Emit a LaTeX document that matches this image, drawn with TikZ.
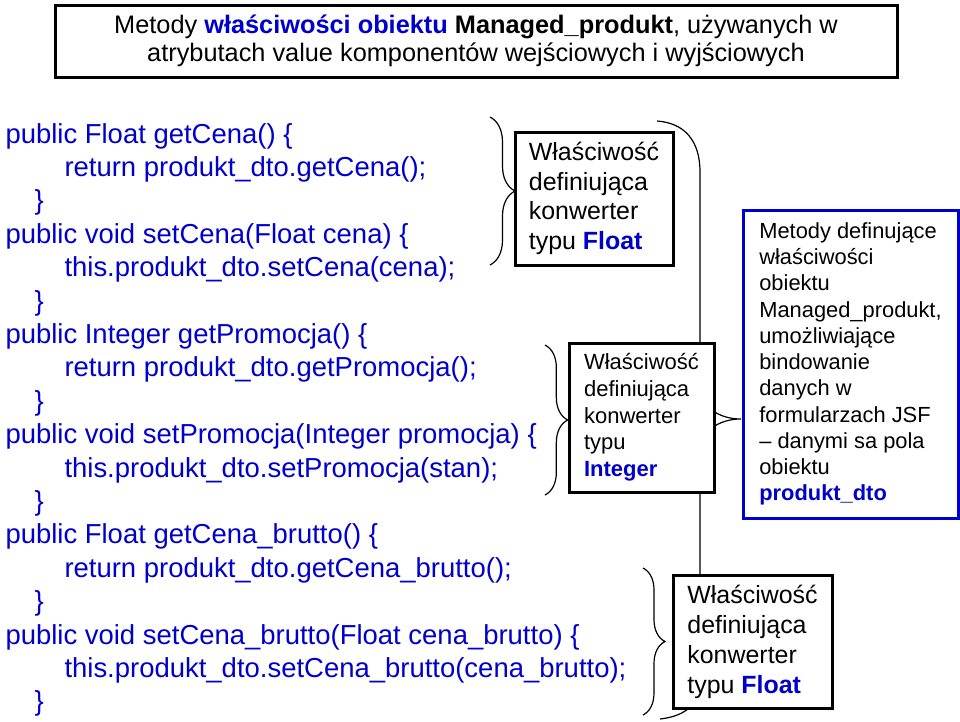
\documentclass[tikz,border=0pt]{standalone}
\usepackage{fontspec}
\setmainfont{Liberation Sans}
\usetikzlibrary{decorations.pathreplacing}

\definecolor{codeblue}{RGB}{0,0,204}

\tikzset{every picture/.style={line width=0.75pt}}
\tikzset{
  codeline/.style={anchor=base west, inner sep=0pt, color=codeblue, font=\fontsize{20.6}{25}\selectfont},
  convbox/.style={draw, line width=2.25pt, fill=white, align=left, inner sep=0pt},
  sidebrace/.style={decorate, decoration={brace, amplitude=#1}, line width=0.9pt},
}

\begin{document}
\begin{tikzpicture}[x=0.75pt,y=0.75pt,yscale=-1,xscale=1]
		\useasboundingbox (0,0) rectangle (960,721);

		% kod metod
		\foreach \k/\ind/\txt in {
			0/5/{public Float getCena() \{},
			1/64/{return produkt\_dto.getCena();},
			2/34/{\}},
			3/5/{public void setCena(Float cena) \{},
			4/64/{this.produkt\_dto.setCena(cena);},
			5/34/{\}},
			6/5/{public Integer getPromocja() \{},
			7/64/{return produkt\_dto.getPromocja();},
			8/34/{\}},
			9/5/{public void setPromocja(Integer promocja) \{},
			10/64/{this.produkt\_dto.setPromocja(stan);},
			11/34/{\}},
			12/5/{public Float getCena\_brutto() \{},
			13/64/{return produkt\_dto.getCena\_brutto();},
			14/34/{\}},
			15/5/{public void setCena\_brutto(Float cena\_brutto) \{},
			16/64/{this.produkt\_dto.setCena\_brutto(cena\_brutto);},
			17/34/{\}}}
			\node [codeline] (code\k) at (\ind, 143+33.4*\k) {\txt};

		% duza klamra
		\draw [line width=0.9pt] (657,121) .. controls (684,123) and (700,140) .. (700,172) -- (700,386) .. controls (700,406) and (718,419) .. (741,419) .. controls (718,419) and (700,432) .. (700,452) -- (700,680) .. controls (700,704) and (686,716) .. (660,719);

		% male klamry
		\draw [sidebrace=18.75pt] (490,117) -- (490,265);
		\draw [sidebrace=17pt] (545,345) -- (545,495);
		\draw [sidebrace=16.5pt] (643,568) -- (643,715);

		% naglowek
		\node [convbox, align=center, minimum width=631.5pt, minimum height=54pt, font=\fontsize{19}{21}\selectfont] (header) at (476,41)
		{Metody \textcolor{codeblue}{\textbf{właściwości obiektu}} \textbf{Managed\_produkt}, używanych w\\atrybutach value komponentów wejściowych i wyjściowych};

		% ramki konwerterow
		\node [convbox, minimum width=118.5pt, minimum height=99.75pt, font=\fontsize{18.7}{22.3}\selectfont] (floatbox) at (594,198.5)
		{Właściwość\\definiująca\\konwerter\\typu \textcolor{codeblue}{\textbf{Float}}};
		\node [convbox, minimum width=108.75pt, minimum height=111.75pt, font=\fontsize{16.5}{20}\selectfont] (intbox) at (641.5,417.5)
		{Właściwość\\definiująca\\konwerter\\typu\\\textcolor{codeblue}{\textbf{Integer}}};
		\node [convbox, minimum width=119.25pt, minimum height=99.75pt, font=\fontsize{18.7}{22.5}\selectfont] (bruttobox) at (752.5,641.5)
		{Właściwość\\definiująca\\konwerter\\typu \textcolor{codeblue}{\textbf{Float}}};

		% opis metod
		\node [convbox, draw=codeblue, minimum width=161.25pt, minimum height=231pt, font=\fontsize{16.4}{19.7}\selectfont] (methodsbox) at (850.5,364)
		{Metody definujące\\właściwości\\obiektu\\Managed\_produkt,\\umożliwiające\\bindowanie\\danych w\\formularzach JSF\\-- danymi sa pola\\obiektu\\\textcolor{codeblue}{\textbf{produkt\_dto}}};

\end{tikzpicture}
\end{document}
